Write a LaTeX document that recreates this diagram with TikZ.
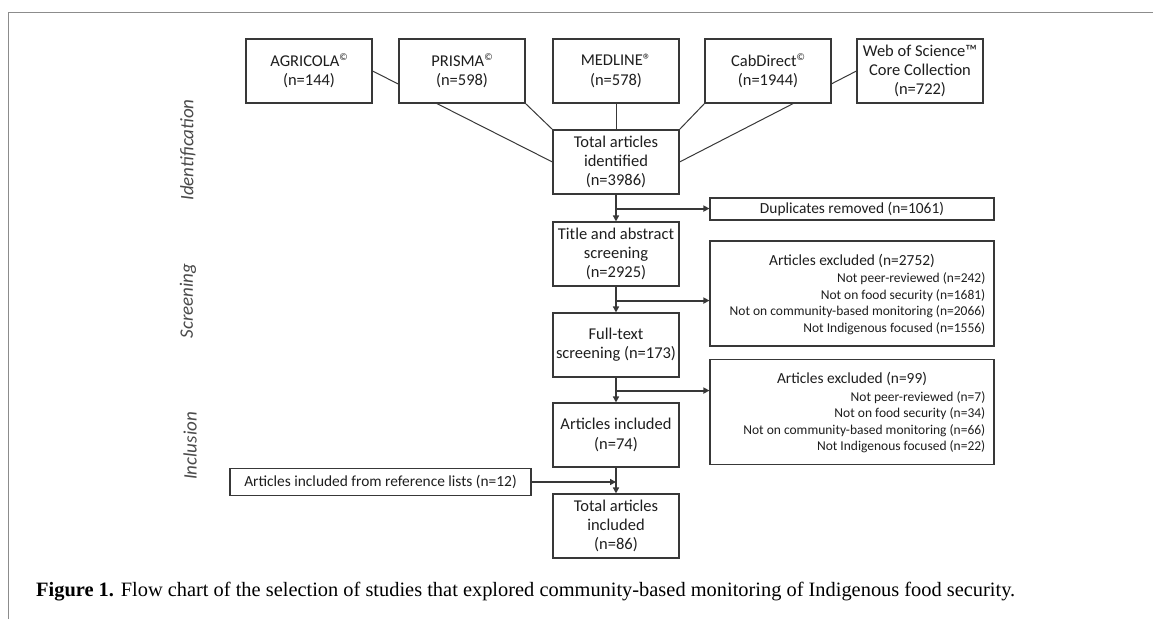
\documentclass[tikz,border=0pt]{standalone}
\usepackage{fontspec}
\setmainfont{Carlito}
\newfontfamily\capfont{Liberation Serif}
\usetikzlibrary{arrows.meta,calc}
\pgfdeclarelayer{bg}
\pgfsetlayers{bg,main}
\definecolor{boxc}{HTML}{383838}
\definecolor{txtc}{HTML}{1E1E1E}
\definecolor{labc}{HTML}{4A4A4A}
\definecolor{framec}{HTML}{8C8C8C}
\newcommand\supsym[1]{\raisebox{0.75ex}{\fontsize{10}{10}\selectfont #1}}
\tikzset{
 box/.style={draw=boxc, line width=1.1pt, fill=white, minimum width=126pt, minimum height=64pt, inner sep=0pt, align=center, text=txtc, font=\fontsize{16.5}{19.2}\selectfont},
 wbox/.style={draw=boxc, line width=1.1pt, fill=white, minimum width=284pt, inner sep=0pt, text=txtc, font=\fontsize{15.4}{18}\selectfont},
 extitle/.style={inner sep=0pt, text=txtc, font=\fontsize{15.4}{18}\selectfont},
 listtxt/.style={inner sep=0pt, align=right, text=txtc, font=\fontsize{13.5}{16.5}\selectfont},
 phase/.style={rotate=90, inner sep=0pt, text=labc, font=\fontsize{19}{22}\selectfont\itshape},
 link/.style={draw=boxc, line width=1pt},
 flow/.style={draw=boxc, line width=2pt, -{Triangle[length=6pt,width=6pt]}},
}
\begin{document}
\begin{tikzpicture}[x=1pt,y=1pt]
\useasboundingbox (0,0) rectangle (1153,-619);
\draw[framec, line width=1.6pt] (8.5,-619) -- (8.5,-12.5) -- (1153,-12.5);

% top row
\node[box] (agr) at (309,-71) {AGRICOLA\supsym{©}\\(n=144)};
\node[box] (pri) at (462,-71) {PRISMA\supsym{©}\\(n=598)};
\node[box] (med) at (616,-71) {MEDLINE®\\(n=578)};
\node[box] (cab) at (768,-71) {CabDirect\supsym{©}\\(n=1944)};
\node[box] (wos) at (920,-71) {Web of Science™\\Core Collection\\(n=722)};

% main column
\node[box] (tid) at (616,-162) {Total articles\\identified\\(n=3986)};
\node[box] (tas) at (616,-254) {Title and abstract\\screening\\(n=2925)};
\node[box] (fts) at (616,-345) {Full-text\\screening (n=173)};
\node[box] (ain) at (616,-435) {Articles included\\(n=74)};
\node[box] (tin) at (616,-526) {Total articles\\included\\(n=86)};

% side boxes
\node[wbox, minimum height=22pt] (dup) at (852,-209) {Duplicates removed (n=1061)};
\node[wbox, minimum height=105pt] (ex1) at (852,-293.5) {};
\node[extitle] (ex1t) at ($(ex1.north)+(0,-20)$) {Articles excluded (n=2752)};
\node[listtxt, anchor=north east] (ex1l) at ($(ex1.north east)+(-9,-32)$) {Not peer-reviewed (n=242)\\Not on food security (n=1681)\\Not on community-based monitoring (n=2066)\\Not Indigenous focused (n=1556)};
\node[wbox, minimum height=104.5pt] (ex2) at (852,-412) {};
\node[extitle] (ex2t) at ($(ex2.north)+(0,-20)$) {Articles excluded (n=99)};
\node[listtxt, anchor=north east] (ex2l) at ($(ex2.north east)+(-9,-32)$) {Not peer-reviewed (n=7)\\Not on food security (n=34)\\Not on community-based monitoring (n=66)\\Not Indigenous focused (n=22)};
\node[wbox, minimum width=301pt, minimum height=27pt] (ref) at (380.5,-482) {Articles included from reference lists (n=12)};

% phase labels
\node[phase] (lid) at (188,-150) {Identification};
\node[phase] (lsc) at (188,-301) {Screening};
\node[phase] (lin) at (190,-446) {Inclusion};

% connectors from databases
\begin{pgfonlayer}{bg}
\draw[link] (agr.east) -- (tid.west);
\draw[link] (pri.south east) -- (tid.north west);
\draw[link] (med.south) -- (tid.north);
\draw[link] (cab.south west) -- (tid.north east);
\draw[link] (wos.west) -- (tid.east);
\end{pgfonlayer}

% flow
\coordinate (m1) at ($(tid.south)+(0,-14)$);
\coordinate (m2) at ($(tas.south)+(0,-14)$);
\coordinate (m3) at ($(fts.south)+(0,-13)$);
\draw[flow] (tid.south) -- (tas.north);
\draw[flow] (m1) -- (m1 -| dup.west);
\draw[flow] (tas.south) -- (fts.north);
\draw[flow] (m2) -- (m2 -| ex1.west);
\draw[flow] (fts.south) -- (ain.north);
\draw[flow] (m3) -- (m3 -| ex2.west);
\draw[flow] (ain.south) -- (tin.north);
\draw[flow] (ref.east) -- (ref.east -| ain.south);

% caption
\node[anchor=base west, inner sep=0pt, font=\capfont\fontsize{20.4}{24}\selectfont] (cap) at (36,-596) {\textbf{Figure 1.} Flow chart of the selection of studies that explored community-based monitoring of Indigenous food security.};
\end{tikzpicture}
\end{document}
